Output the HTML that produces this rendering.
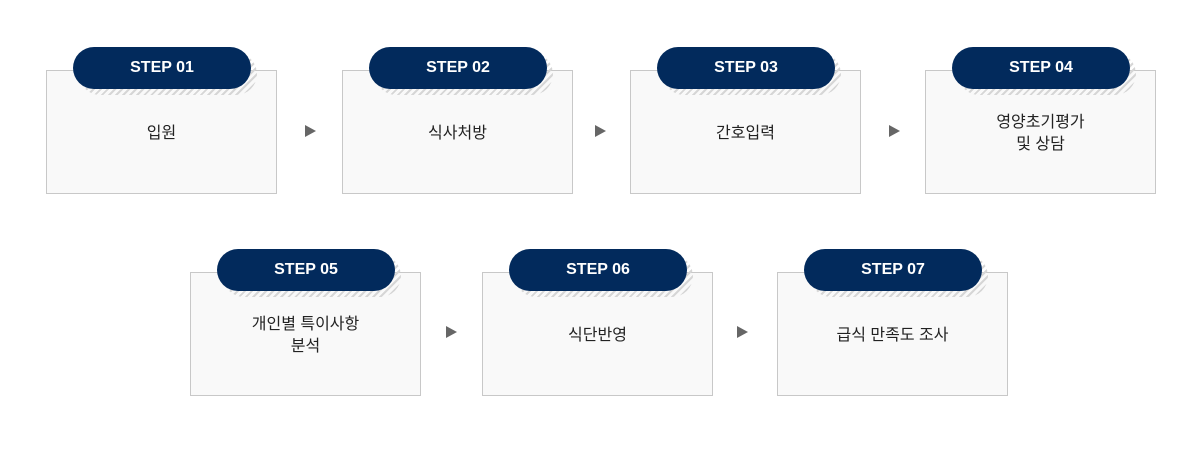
<!DOCTYPE html>
<html><head><meta charset="utf-8"><style>
body{margin:0;width:1200px;height:456px;background:#fff;position:relative;font-family:"Liberation Sans","Noto Sans CJK KR",sans-serif;overflow:hidden}
.box{position:absolute;width:231px;height:124px;border:1px solid #c8c8c8;background:#f9f9f9;box-sizing:border-box;display:flex;align-items:center;justify-content:center;text-align:center;font-size:16px;color:#222;line-height:22px;padding-top:4px}
.sh{position:absolute;width:178px;height:42px;border-radius:21px;background:repeating-linear-gradient(135deg,#d6d6d6 0 2px,transparent 2px 5px)}
.pill{position:absolute;width:178px;height:42px;border-radius:21px;background:#022a5c;color:#fff;font-weight:bold;font-size:16px;display:flex;align-items:center;justify-content:center}
.ar{position:absolute;width:0;height:0;border-left:11px solid #666;border-top:6px solid transparent;border-bottom:6px solid transparent}
</style></head><body>
<div class="box" style="left:46px;top:70px">입원</div>
<div class="box" style="left:342px;top:70px">식사처방</div>
<div class="box" style="left:630px;top:70px">간호입력</div>
<div class="box" style="left:925px;top:70px">영양초기평가<br>및 상담</div>
<div class="box" style="left:190px;top:272px">개인별 특이사항<br>분석</div>
<div class="box" style="left:482px;top:272px">식단반영</div>
<div class="box" style="left:777px;top:272px">급식 만족도 조사</div>

<div class="sh" style="left:79px;top:53px"></div><div class="pill" style="left:73px;top:47px">STEP 01</div>
<div class="sh" style="left:375px;top:53px"></div><div class="pill" style="left:369px;top:47px">STEP 02</div>
<div class="sh" style="left:663px;top:53px"></div><div class="pill" style="left:657px;top:47px">STEP 03</div>
<div class="sh" style="left:958px;top:53px"></div><div class="pill" style="left:952px;top:47px">STEP 04</div>
<div class="sh" style="left:223px;top:255px"></div><div class="pill" style="left:217px;top:249px">STEP 05</div>
<div class="sh" style="left:515px;top:255px"></div><div class="pill" style="left:509px;top:249px">STEP 06</div>
<div class="sh" style="left:810px;top:255px"></div><div class="pill" style="left:804px;top:249px">STEP 07</div>

<div class="ar" style="left:305px;top:125px"></div>
<div class="ar" style="left:595px;top:125px"></div>
<div class="ar" style="left:889px;top:125px"></div>
<div class="ar" style="left:446px;top:326px"></div>
<div class="ar" style="left:737px;top:326px"></div>
</body></html>
